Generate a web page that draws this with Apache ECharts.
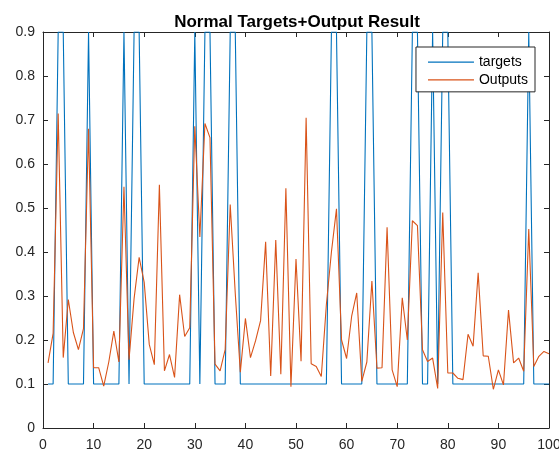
<!DOCTYPE html>
<html style="height: 100%">
    <head>
        <title>Normal Targets+Output Result</title>

        <script type="text/javascript" src="https://fastly.jsdelivr.net/npm/echarts@6.0.0/dist/echarts.min.js"></script>

<script type="module">

// sample index 1..100
let sampleList = [];
for (let i = 1; i <= 100; ++i)
{
    sampleList.push(i);
}

// target class levels (0.1 / 0.9)
let targetList = [
    0.1, 0.1, 0.9, 0.9, 0.1, 0.1, 0.1, 0.1, 0.9, 0.1,
    0.1, 0.1, 0.1, 0.1, 0.1, 0.9, 0.1, 0.9, 0.9, 0.1,
    0.1, 0.1, 0.1, 0.1, 0.1, 0.1, 0.1, 0.1, 0.1, 0.9,
    0.1, 0.9, 0.9, 0.1, 0.1, 0.1, 0.9, 0.9, 0.1, 0.1,
    0.1, 0.1, 0.1, 0.1, 0.1, 0.1, 0.1, 0.1, 0.1, 0.1,
    0.1, 0.1, 0.1, 0.1, 0.1, 0.1, 0.9, 0.9, 0.1, 0.1,
    0.1, 0.1, 0.1, 0.9, 0.9, 0.1, 0.1, 0.1, 0.1, 0.1,
    0.1, 0.1, 0.9, 0.9, 0.1, 0.1, 0.9, 0.1, 0.9, 0.9,
    0.1, 0.1, 0.1, 0.1, 0.1, 0.1, 0.1, 0.1, 0.1, 0.1,
    0.1, 0.1, 0.1, 0.1, 0.1, 0.9, 0.1, 0.1, 0.1, 0.1,
];

// network outputs
let outputList = [
    0.148, 0.215, 0.715, 0.160, 0.292, 0.217, 0.178, 0.226, 0.680, 0.137,
    0.137, 0.095, 0.150, 0.220, 0.150, 0.548, 0.155, 0.294, 0.388, 0.331,
    0.190, 0.144, 0.553, 0.130, 0.167, 0.115, 0.303, 0.208, 0.228, 0.686,
    0.434, 0.692, 0.660, 0.145, 0.130, 0.178, 0.508, 0.305, 0.127, 0.249,
    0.160, 0.198, 0.244, 0.423, 0.118, 0.427, 0.122, 0.545, 0.094, 0.384,
    0.152, 0.705, 0.146, 0.140, 0.117, 0.280, 0.400, 0.498, 0.200, 0.158,
    0.254, 0.307, 0.106, 0.150, 0.334, 0.136, 0.137, 0.456, 0.132, 0.094,
    0.296, 0.200, 0.471, 0.460, 0.178, 0.151, 0.159, 0.090, 0.490, 0.125,
    0.125, 0.113, 0.110, 0.213, 0.186, 0.353, 0.164, 0.163, 0.088, 0.132,
    0.098, 0.268, 0.148, 0.159, 0.129, 0.452, 0.140, 0.163, 0.174, 0.169,
];

let FONT = "'Liberation Sans', Arial, Helvetica, sans-serif";
let AXIS_COLOR = "#262626";

let chart = echarts.init(document.getElementById('target'));
window.addEventListener("resize", chart.resize);

// pair up x with y
let MakeSeries = (yList) => {
    return sampleList.map((x, i) => [x, yList[i]]);
};

// matlab style box axis, ticks pointing in
let MakeAxis = (extra) => {
    return Object.assign({
        type: "value",
        axisLine: { show: true, onZero: false, lineStyle: { color: AXIS_COLOR, width: 1 } },
        axisTick: { show: true, inside: true, length: 5, lineStyle: { color: AXIS_COLOR } },
        splitLine: { show: false },
        axisLabel: { show: false },
    }, extra);
};

let labelStyle = {
    show: true,
    color: AXIS_COLOR,
    fontFamily: FONT,
    fontSize: 14,
    margin: 8,
};

let option = {
    backgroundColor: "#ffffff",
    animation: false,
    title: {
        text: "Normal Targets+Output Result",
        left: 297,
        top: 8,
        padding: 0,
        textAlign: "center",
        textStyle: {
            fontFamily: FONT,
            fontSize: 17,
            fontWeight: "bold",
            color: "#000000",
        },
    },
    legend: {
        orient: "vertical",
        right: 24,
        top: 47,
        padding: [3, 7, 0, 12],
        itemGap: -6.4,
        itemWidth: 46,
        itemHeight: 1.2,
        icon: "rect",
        backgroundColor: "#ffffff",
        borderColor: AXIS_COLOR,
        borderWidth: 1,
        borderRadius: 0,
        textStyle: {
            fontFamily: FONT,
            fontSize: 14,
            color: "#000000",
        },
        data: ["targets", "Outputs"],
    },
    grid: {
        left: 43,
        right: 10,
        top: 32,
        bottom: 22,
        containLabel: false,
        outerBoundsMode: "none",
    },
    xAxis: [
        MakeAxis({
            min: 0, max: 100, interval: 10, position: "bottom",
            axisLabel: Object.assign({}, labelStyle, { margin: 5 }),
        }),
        MakeAxis({ min: 0, max: 100, interval: 10, position: "top" }),
    ],
    yAxis: [
        MakeAxis({
            min: 0, max: 0.9, interval: 0.1, position: "left",
            axisLabel: Object.assign({}, labelStyle, {
                formatter: v => (Math.round(v * 10) / 10).toString(),
            }),
        }),
        MakeAxis({ min: 0, max: 0.9, interval: 0.1, position: "right" }),
    ],
    series: [
        {
            name: "targets",
            type: "line",
            symbol: "none",
            color: "#0072BD",
            lineStyle: { width: 1.1, color: "#0072BD" },
            data: MakeSeries(targetList),
        },
        {
            name: "Outputs",
            type: "line",
            symbol: "none",
            color: "#D95319",
            lineStyle: { width: 1.1, color: "#D95319" },
            data: MakeSeries(outputList),
        },
    ],
};

chart.setOption(option, true);

</script>

    </head>

    <body style="height: 100%; margin: 0">
        <div id="target" style="width: 559px; height: 450px"></div>
    </body>
</html>
